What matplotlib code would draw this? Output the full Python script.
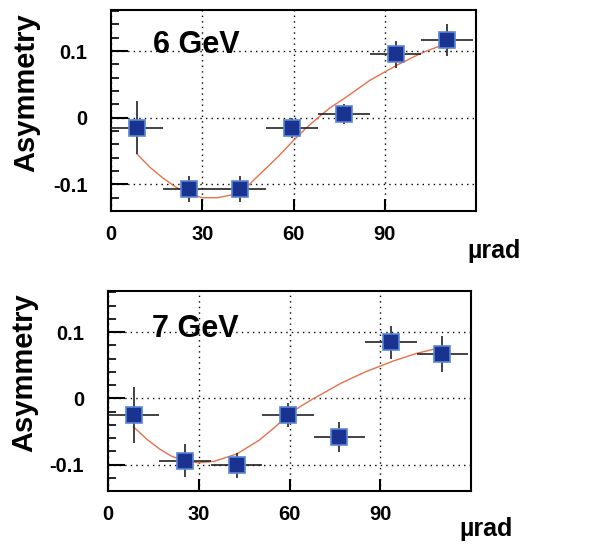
import matplotlib
matplotlib.use("Agg")
import matplotlib.pyplot as plt
from matplotlib.ticker import MultipleLocator

plt.rcParams['font.family'] = ['Liberation Sans', 'DejaVu Sans']
plt.rcParams['font.weight'] = 'bold'

# bin centres (urad) and half widths
angle = [8.5, 25.5, 42.5, 59.5, 76.5, 93.5, 110.5]
angle_err = [8.5, 8.5, 8.5, 8.5, 8.5, 8.5, 8.5]

# 6 GeV
asym_6 = [-0.015, -0.107, -0.107, -0.016, 0.005, 0.095, 0.116]
err_6 = [0.040, 0.020, 0.020, 0.015, 0.015, 0.020, 0.024]
fit_x_6 = [8.5, 13, 17, 21, 25, 30, 35, 42.5, 50, 55, 60, 64, 68, 72, 77, 85, 94, 102, 111]
fit_y_6 = [-0.054, -0.075, -0.090, -0.103, -0.113, -0.120, -0.120, -0.113, -0.080, -0.058, -0.034,
           -0.016, 0.000, 0.015, 0.030, 0.056, 0.079, 0.097, 0.113]

# 7 GeV
asym_7 = [-0.025, -0.094, -0.101, -0.025, -0.058, 0.085, 0.067]
err_7 = [0.042, 0.025, 0.019, 0.018, 0.023, 0.025, 0.027]
fit_x_7 = [8.5, 13, 17, 21, 25, 30, 35, 42.5, 50, 55, 60, 64, 68, 72, 77, 85, 94, 102, 111]
fit_y_7 = [-0.043, -0.062, -0.076, -0.087, -0.094, -0.097, -0.095, -0.084, -0.063, -0.044, -0.023,
           -0.011, 0.000, 0.010, 0.023, 0.040, 0.056, 0.068, 0.078]

panels = [
    ("6 GeV", asym_6, err_6, fit_x_6, fit_y_6, [0.180, 0.612, 0.593, 0.370], (0.115, 0.826), (1.05, -0.2)),
    ("7 GeV", asym_7, err_7, fit_x_7, fit_y_7, [0.175, 0.097, 0.590, 0.368], (0.121, 0.81), (1.04, -0.19)),
]

fig = plt.figure(figsize=(6.16, 5.44), dpi=100)

for label, asym, err, fx, fy, pos, lab_xy, unit_xy in panels:
    ax = fig.add_axes(pos)
    ax.plot(fx, fy, color='#e8704a', lw=1.0, zorder=2)
    ax.errorbar(angle, asym, xerr=angle_err, yerr=err, fmt='none',
                ecolor='#222222', elinewidth=1.2, capsize=0, zorder=3)
    ax.plot(angle, asym, 's', ms=12, mfc='#1a3391', mec='#5a86d6', mew=1.2, zorder=4)

    ax.set_xlim(0, 120)
    ax.set_ylim(-0.14, 0.162)
    ax.set_xticks([0, 30, 60, 90])
    ax.set_yticks([-0.1, 0, 0.1])
    ax.set_yticklabels(['-0.1', '0', '0.1'])
    ax.yaxis.set_minor_locator(MultipleLocator(0.02))
    ax.grid(True, which='major', color='black', ls=(0, (1, 3)), lw=1.0)
    ax.tick_params(which='major', direction='in', length=12, width=1.5, labelsize=14.5, pad=17)
    ax.tick_params(which='minor', direction='in', length=6, width=1.2)
    ax.tick_params(axis='x', which='major', length=9, pad=10)
    for lab in ax.get_xticklabels() + ax.get_yticklabels():
        lab.set_fontweight('bold')
    for s in ax.spines.values():
        s.set_linewidth(1.5)
    ax.set_ylabel('Asymmetry', fontsize=21, fontweight='bold')
    ax.yaxis.set_label_coords(-0.192, 0.59)
    ax.text(lab_xy[0], lab_xy[1], label, transform=ax.transAxes, fontsize=22,
            fontweight='bold', va='center', ha='left')
    ax.text(unit_xy[0], unit_xy[1], 'µrad', transform=ax.transAxes, fontsize=18,
            fontweight='bold', va='center', ha='center')

fig.savefig('out.png', dpi=100)
